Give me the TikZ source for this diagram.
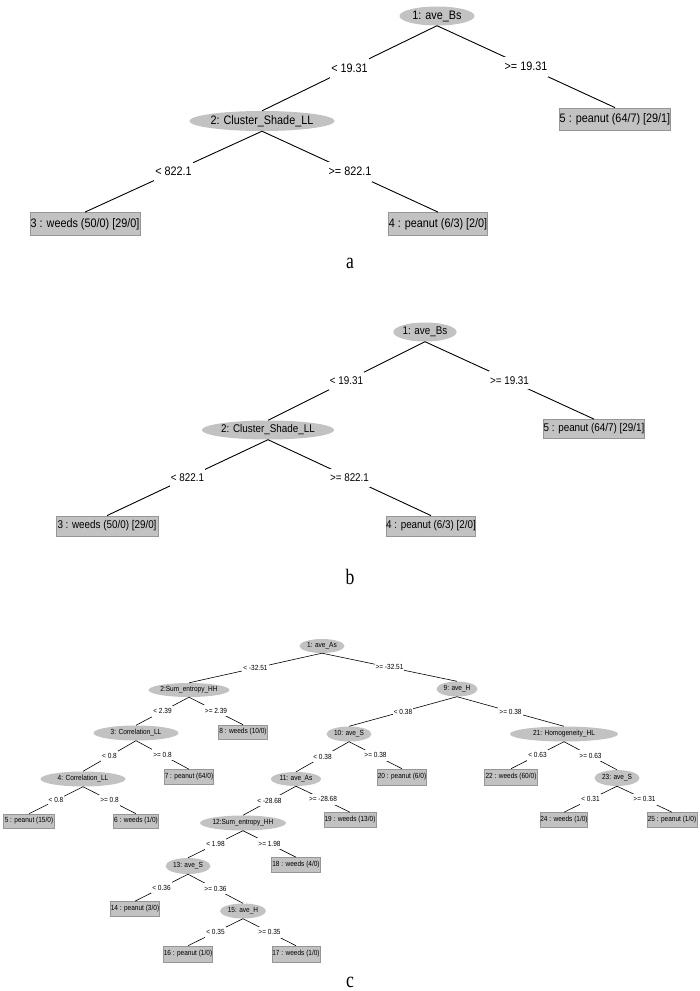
\documentclass[tikz,border=0pt]{standalone}
\usepackage{fontspec}
\setmainfont[FakeStretch=0.88]{Liberation Sans}
\newfontfamily\panelfont[FakeStretch=0.8]{Liberation Serif}
\usetikzlibrary{shapes.geometric}
\definecolor{nodegray}{RGB}{194,194,194}
\definecolor{rimgray}{RGB}{150,150,150}
\newcommand\fontA{\fontsize{12.3}{14}\selectfont}
\newcommand\fontB{\fontsize{11.2}{13}\selectfont}
\newcommand\fontC{\fontsize{7.4}{9}\selectfont}
\tikzset{
  ell/.style={ellipse, fill=nodegray, inner sep=0pt},
  leaf/.style={rectangle, fill=nodegray, draw=rimgray, line width=0.8pt, inner sep=0pt},
  cond/.style={fill=white, inner ysep=0pt, inner xsep=1pt},
  edge/.style={draw=black, line width=0.9pt},
  edgec/.style={draw=black, line width=0.6pt},
  panellabel/.style={font=\panelfont\fontsize{22}{24}\selectfont, inner sep=0pt}
}
\begin{document}
\begin{tikzpicture}[x=1pt,y=-1pt]
\useasboundingbox (0,0) rectangle (700,991);
\fill[white] (0,0) rectangle (700,991);

% ---------------- panel a ----------------
\begin{scope}[every node/.append style={font=\fontA}]
\node[ell, minimum width=75, minimum height=19] (a1) at (437,16) {1: ave\_Bs};
\node[ell, minimum width=142, minimum height=20] (a2) at (262,121) {2: Cluster\_Shade\_LL};
\node[leaf, minimum width=110, minimum height=22] (a5) at (615,119) {5 : peanut (64/7) [29/1]};
\node[leaf, minimum width=110, minimum height=23] (a3) at (85,224) {3 : weeds (50/0) [29/0]};
\node[leaf, minimum width=98, minimum height=23] (a4) at (438,224) {4 : peanut (6/3) [2/0]};
\path[edge] (a1.south) -- node[cond, minimum height=20] (la12) {< 19.31} (a2.north);
\path[edge] (a1.south) -- node[cond, minimum height=20] (la15) {>= 19.31} (a5.north);
\path[edge] (a2.south) -- node[cond, minimum height=20] (la23) {< 822.1} (a3.north);
\path[edge] (a2.south) -- node[cond, minimum height=20] (la24) {>= 822.1} (a4.north);
\end{scope}
\node[panellabel] (pa) at (350,263) {a};

% ---------------- panel b ----------------
\begin{scope}[every node/.append style={font=\fontB}]
\node[ell, minimum width=60, minimum height=19] (b1) at (425,332) {1: ave\_Bs};
\node[ell, minimum width=130, minimum height=19] (b2) at (268,430) {2: Cluster\_Shade\_LL};
\node[leaf, minimum width=100, minimum height=19] (b5) at (594,429) {5 : peanut (64/7) [29/1]};
\node[leaf, minimum width=102, minimum height=20] (b3) at (107,526) {3 : weeds (50/0) [29/0]};
\node[leaf, minimum width=89, minimum height=20] (b4) at (431,526) {4 : peanut (6/3) [2/0]};
\path[edge] (b1.south) -- node[cond, minimum height=18] (lb12) {< 19.31} (b2.north);
\path[edge] (b1.south) -- node[cond, minimum height=18] (lb15) {>= 19.31} (b5.north);
\path[edge] (b2.south) -- node[cond, minimum height=18] (lb23) {< 822.1} (b3.north);
\path[edge] (b2.south) -- node[cond, minimum height=18] (lb24) {>= 822.1} (b4.north);
\end{scope}
\node[panellabel] (pb) at (350,577) {b};

% ---------------- panel c ----------------
\begin{scope}[every node/.append style={font=\fontC}, leaf/.append style={line width=0.6pt}]
\node[ell, minimum width=45, minimum height=14] (c1) at (322,646) {1: ave\_As};
\node[ell, minimum width=80, minimum height=14] (c2) at (189,690) {2:Sum\_entropy\_HH};
\node[ell, minimum width=41, minimum height=15] (c9) at (457,689) {9: ave\_H};
\node[ell, minimum width=85, minimum height=15] (c3) at (136,733) {3: Correlation\_LL};
\node[leaf, minimum width=49, minimum height=14] (c8) at (243,732) {8 : weeds (10/0)};
\node[ell, minimum width=45, minimum height=15] (c10) at (349,734) {10: ave\_S};
\node[ell, minimum width=108, minimum height=15] (c21) at (564,734) {21: Homogeneity\_HL};
\node[ell, minimum width=85, minimum height=15] (c4) at (83,779) {4: Correlation\_LL};
\node[leaf, minimum width=49, minimum height=15] (c7) at (189,777) {7 : peanut (64/0)};
\node[ell, minimum width=50, minimum height=14] (c11) at (296,779) {11: ave\_As};
\node[leaf, minimum width=49, minimum height=16] (c20) at (402,777) {20 : peanut (6/0)};
\node[leaf, minimum width=53, minimum height=16] (c22) at (511,777) {22 : weeds (60/0)};
\node[ell, minimum width=45, minimum height=16] (c23) at (617,778) {23: ave\_S};
\node[leaf, minimum width=51, minimum height=14] (c5) at (29,821) {5 : peanut (15/0)};
\node[leaf, minimum width=45, minimum height=14] (c6) at (136,821) {6 : weeds (1/0)};
\node[ell, minimum width=86, minimum height=15] (c12) at (243,823) {12:Sum\_entropy\_HH};
\node[leaf, minimum width=52, minimum height=15] (c19) at (350,820) {19 : weeds (13/0)};
\node[leaf, minimum width=47, minimum height=15] (c24) at (564,820) {24 : weeds (1/0)};
\node[leaf, minimum width=50, minimum height=15] (c25) at (672,820) {25 : peanut (1/0)};
\node[ell, minimum width=45, minimum height=16] (c13) at (188,866) {13: ave\_S};
\node[leaf, minimum width=49, minimum height=15] (c18) at (296,865) {18 : weeds (4/0)};
\node[leaf, minimum width=49, minimum height=15] (c14) at (135,909) {14 : peanut (3/0)};
\node[ell, minimum width=46, minimum height=15] (c15) at (243,911) {15: ave\_H};
\node[leaf, minimum width=49, minimum height=16] (c16) at (188,954) {16 : peanut (1/0)};
\node[leaf, minimum width=48, minimum height=16] (c17) at (296,954) {17 : weeds (1/0)};
\tikzset{condc/.style={cond, minimum height=11}}
\path[edgec] (c1.south) -- node[condc] (l1-2) {< -32.51} (c2.north);
\path[edgec] (c1.south) -- node[condc] (l1-9) {>= -32.51} (c9.north);
\path[edgec] (c2.south) -- node[condc] (l2-3) {< 2.39} (c3.north);
\path[edgec] (c2.south) -- node[condc] (l2-8) {>= 2.39} (c8.north);
\path[edgec] (c3.south) -- node[condc] (l3-4) {< 0.8} (c4.north);
\path[edgec] (c3.south) -- node[condc] (l3-7) {>= 0.8} (c7.north);
\path[edgec] (c4.south) -- node[condc] (l4-5) {< 0.8} (c5.north);
\path[edgec] (c4.south) -- node[condc] (l4-6) {>= 0.8} (c6.north);
\path[edgec] (c9.south) -- node[condc] (l9-10) {< 0.38} (c10.north);
\path[edgec] (c9.south) -- node[condc] (l9-21) {>= 0.38} (c21.north);
\path[edgec] (c10.south) -- node[condc] (l10-11) {< 0.38} (c11.north);
\path[edgec] (c10.south) -- node[condc] (l10-20) {>= 0.38} (c20.north);
\path[edgec] (c11.south) -- node[condc] (l11-12) {< -28.68} (c12.north);
\path[edgec] (c11.south) -- node[condc] (l11-19) {>= -28.68} (c19.north);
\path[edgec] (c12.south) -- node[condc] (l12-13) {< 1.98} (c13.north);
\path[edgec] (c12.south) -- node[condc] (l12-18) {>= 1.98} (c18.north);
\path[edgec] (c13.south) -- node[condc] (l13-14) {< 0.36} (c14.north);
\path[edgec] (c13.south) -- node[condc] (l13-15) {>= 0.36} (c15.north);
\path[edgec] (c15.south) -- node[condc] (l15-16) {< 0.35} (c16.north);
\path[edgec] (c15.south) -- node[condc] (l15-17) {>= 0.35} (c17.north);
\path[edgec] (c21.south) -- node[condc] (l21-22) {< 0.63} (c22.north);
\path[edgec] (c21.south) -- node[condc] (l21-23) {>= 0.63} (c23.north);
\path[edgec] (c23.south) -- node[condc] (l23-24) {< 0.31} (c24.north);
\path[edgec] (c23.south) -- node[condc] (l23-25) {>= 0.31} (c25.north);
\end{scope}
\node[panellabel] (pc) at (350,982) {c};
\end{tikzpicture}
\end{document}
